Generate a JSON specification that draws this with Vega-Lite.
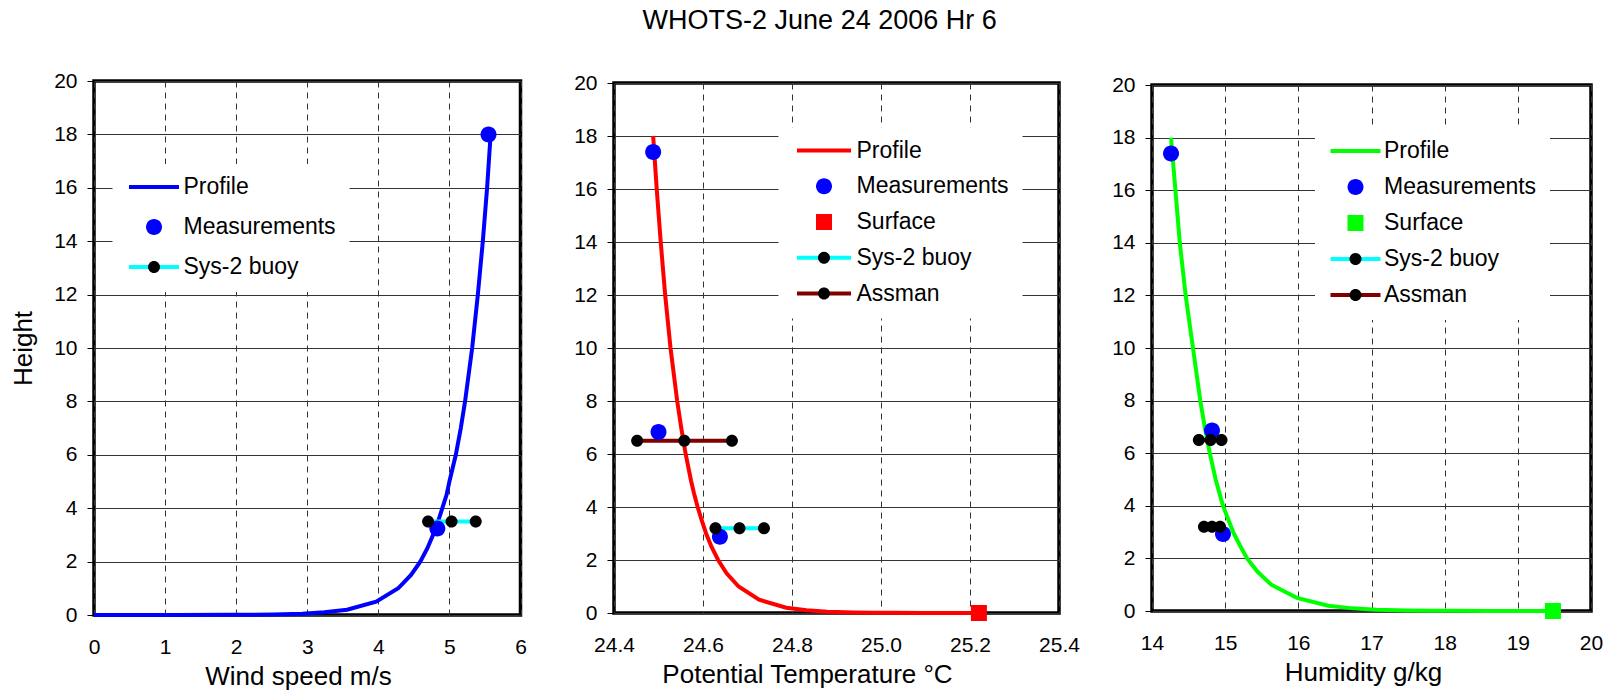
{
  "$schema": "https://vega.github.io/schema/vega-lite/v6.json",
  "background": "white",
  "padding": {"left": 8, "top": 7, "right": 2, "bottom": 2},
  "title": {"text": "WHOTS-2 June 24 2006 Hr 6", "font": "Liberation Sans", "fontSize": 27, "fontWeight": "normal", "color": "black", "anchor": "middle", "dx": 13, "offset": 33},
  "config": {
    "font": "Liberation Sans",
    "view": {"stroke": "black", "strokeWidth": 3.5},
    "axis": {"labelFont": "Liberation Sans", "labelFontSize": 21, "labelColor": "black", "titleFont": "Liberation Sans", "titleFontSize": 26, "titleFontWeight": "normal", "titleColor": "black", "domain": false, "gridColor": "#333333", "gridOpacity": 1, "gridWidth": 1, "tickColor": "black", "labelOverlap": false, "labelFlush": false},
    "axisX": {"ticks": false, "tickSize": 0, "labelPadding": 21.5, "gridDash": [6, 5], "titlePadding": 6},
    "axisY": {"ticks": true, "tickSize": 7, "labelPadding": 10, "gridDash": [], "titlePadding": 17, "format": "d"},
    "legend": {"labelFont": "Liberation Sans", "labelFontSize": 23, "labelColor": "black", "labelLimit": 400, "title": null}
  },
  "datasets": {
    "p1_lines": [
      {"lg": "Profile", "x": 5.58, "h": 18}, {"lg": "Profile", "x": 5.53, "h": 16}, {"lg": "Profile", "x": 5.47, "h": 14}, {"lg": "Profile", "x": 5.40, "h": 12}, {"lg": "Profile", "x": 5.32, "h": 10}, {"lg": "Profile", "x": 5.22, "h": 8}, {"lg": "Profile", "x": 5.16, "h": 7}, {"lg": "Profile", "x": 5.09, "h": 6}, {"lg": "Profile", "x": 5.00, "h": 5}, {"lg": "Profile", "x": 4.96, "h": 4.5}, {"lg": "Profile", "x": 4.90, "h": 4}, {"lg": "Profile", "x": 4.84, "h": 3.5}, {"lg": "Profile", "x": 4.77, "h": 3}, {"lg": "Profile", "x": 4.69, "h": 2.5}, {"lg": "Profile", "x": 4.59, "h": 2}, {"lg": "Profile", "x": 4.46, "h": 1.5}, {"lg": "Profile", "x": 4.28, "h": 1}, {"lg": "Profile", "x": 3.97, "h": 0.5}, {"lg": "Profile", "x": 3.56, "h": 0.2}, {"lg": "Profile", "x": 3.24, "h": 0.1}, {"lg": "Profile", "x": 2.93, "h": 0.05}, {"lg": "Profile", "x": 2.52, "h": 0.02}, {"lg": "Profile", "x": 2.21, "h": 0.01}, {"lg": "Profile", "x": 1.90, "h": 0.005}, {"lg": "Profile", "x": 1.17, "h": 0.001}, {"lg": "Profile", "x": 0.86, "h": 0.0005}, {"lg": "Profile", "x": 0.45, "h": 0.0002}, {"lg": "Profile", "x": 0.14, "h": 0.0001}, {"lg": "Profile", "x": 0.0, "h": 0.0},
      {"lg": "Sys-2 buoy", "x": 4.70, "h": 3.5}, {"lg": "Sys-2 buoy", "x": 5.03, "h": 3.5}, {"lg": "Sys-2 buoy", "x": 5.37, "h": 3.5}
    ],
    "p1_pts": [
      {"lp": "Measurements", "x": 5.55, "h": 18.0}, {"lp": "Measurements", "x": 4.83, "h": 3.24},
      {"lp": "Sys-2 buoy", "x": 4.70, "h": 3.5}, {"lp": "Sys-2 buoy", "x": 5.03, "h": 3.5}, {"lp": "Sys-2 buoy", "x": 5.37, "h": 3.5}
    ],
    "p2_lines": [
      {"lg": "Profile", "x": 24.488, "h": 18}, {"lg": "Profile", "x": 24.496, "h": 16}, {"lg": "Profile", "x": 24.505, "h": 14}, {"lg": "Profile", "x": 24.515, "h": 12}, {"lg": "Profile", "x": 24.527, "h": 10}, {"lg": "Profile", "x": 24.542, "h": 8}, {"lg": "Profile", "x": 24.551, "h": 7}, {"lg": "Profile", "x": 24.561, "h": 6}, {"lg": "Profile", "x": 24.573, "h": 5}, {"lg": "Profile", "x": 24.580, "h": 4.5}, {"lg": "Profile", "x": 24.588, "h": 4}, {"lg": "Profile", "x": 24.597, "h": 3.5}, {"lg": "Profile", "x": 24.607, "h": 3}, {"lg": "Profile", "x": 24.619, "h": 2.5}, {"lg": "Profile", "x": 24.634, "h": 2}, {"lg": "Profile", "x": 24.653, "h": 1.5}, {"lg": "Profile", "x": 24.680, "h": 1}, {"lg": "Profile", "x": 24.726, "h": 0.5}, {"lg": "Profile", "x": 24.787, "h": 0.2}, {"lg": "Profile", "x": 24.833, "h": 0.1}, {"lg": "Profile", "x": 24.879, "h": 0.05}, {"lg": "Profile", "x": 24.940, "h": 0.02}, {"lg": "Profile", "x": 24.986, "h": 0.01}, {"lg": "Profile", "x": 25.032, "h": 0.005}, {"lg": "Profile", "x": 25.093, "h": 0.002}, {"lg": "Profile", "x": 25.139, "h": 0.001}, {"lg": "Profile", "x": 25.185, "h": 0.0005}, {"lg": "Profile", "x": 25.220, "h": 0.0},
      {"lg": "Sys-2 buoy", "x": 24.628, "h": 3.2}, {"lg": "Sys-2 buoy", "x": 24.682, "h": 3.2}, {"lg": "Sys-2 buoy", "x": 24.737, "h": 3.2},
      {"lg": "Assman", "x": 24.452, "h": 6.5}, {"lg": "Assman", "x": 24.558, "h": 6.5}, {"lg": "Assman", "x": 24.665, "h": 6.5}
    ],
    "p2_pts": [
      {"lp": "Measurements", "x": 24.488, "h": 17.4}, {"lp": "Measurements", "x": 24.500, "h": 6.83}, {"lp": "Measurements", "x": 24.638, "h": 2.88},
      {"lp": "Sys-2 buoy", "x": 24.628, "h": 3.2}, {"lp": "Sys-2 buoy", "x": 24.682, "h": 3.2}, {"lp": "Sys-2 buoy", "x": 24.737, "h": 3.2},
      {"lp": "Assman", "x": 24.452, "h": 6.5}, {"lp": "Assman", "x": 24.558, "h": 6.5}, {"lp": "Assman", "x": 24.665, "h": 6.5},
      {"lp": "Surface", "x": 25.220, "h": 0.0}
    ],
    "p3_lines": [
      {"lg": "Profile", "x": 14.26, "h": 18}, {"lg": "Profile", "x": 14.32, "h": 16}, {"lg": "Profile", "x": 14.38, "h": 14}, {"lg": "Profile", "x": 14.46, "h": 12}, {"lg": "Profile", "x": 14.56, "h": 10}, {"lg": "Profile", "x": 14.66, "h": 8}, {"lg": "Profile", "x": 14.72, "h": 7}, {"lg": "Profile", "x": 14.79, "h": 6}, {"lg": "Profile", "x": 14.87, "h": 5}, {"lg": "Profile", "x": 14.92, "h": 4.5}, {"lg": "Profile", "x": 14.97, "h": 4}, {"lg": "Profile", "x": 15.04, "h": 3.5}, {"lg": "Profile", "x": 15.11, "h": 3}, {"lg": "Profile", "x": 15.20, "h": 2.5}, {"lg": "Profile", "x": 15.30, "h": 2}, {"lg": "Profile", "x": 15.44, "h": 1.5}, {"lg": "Profile", "x": 15.63, "h": 1}, {"lg": "Profile", "x": 15.98, "h": 0.5}, {"lg": "Profile", "x": 16.41, "h": 0.2}, {"lg": "Profile", "x": 16.74, "h": 0.1}, {"lg": "Profile", "x": 17.06, "h": 0.05}, {"lg": "Profile", "x": 17.48, "h": 0.02}, {"lg": "Profile", "x": 17.81, "h": 0.01}, {"lg": "Profile", "x": 18.14, "h": 0.005}, {"lg": "Profile", "x": 18.58, "h": 0.002}, {"lg": "Profile", "x": 18.90, "h": 0.001}, {"lg": "Profile", "x": 19.23, "h": 0.0005}, {"lg": "Profile", "x": 19.48, "h": 0.0},
      {"lg": "Sys-2 buoy", "x": 14.71, "h": 3.2}, {"lg": "Sys-2 buoy", "x": 14.82, "h": 3.2}, {"lg": "Sys-2 buoy", "x": 14.93, "h": 3.2},
      {"lg": "Assman", "x": 14.64, "h": 6.5}, {"lg": "Assman", "x": 14.80, "h": 6.5}, {"lg": "Assman", "x": 14.95, "h": 6.5}
    ],
    "p3_pts": [
      {"lp": "Measurements", "x": 14.26, "h": 17.4}, {"lp": "Measurements", "x": 14.82, "h": 6.86}, {"lp": "Measurements", "x": 14.97, "h": 2.93},
      {"lp": "Sys-2 buoy", "x": 14.71, "h": 3.2}, {"lp": "Sys-2 buoy", "x": 14.82, "h": 3.2}, {"lp": "Sys-2 buoy", "x": 14.93, "h": 3.2},
      {"lp": "Assman", "x": 14.64, "h": 6.5}, {"lp": "Assman", "x": 14.80, "h": 6.5}, {"lp": "Assman", "x": 14.95, "h": 6.5},
      {"lp": "Surface", "x": 19.48, "h": 0.0}
    ]
  },
  "resolve": {"scale": {"stroke": "independent", "fill": "independent", "shape": "independent"}},
  "bounds": "flush",
  "center": true,
  "spacing": 93,
  "hconcat": [
    {
      "width": 426.5,
      "height": 534,
      "layer": [
        {
          "data": {"name": "p1_lines"},
          "mark": {"type": "line", "strokeWidth": 4},
          "encoding": {
            "x": {"field": "x", "type": "quantitative", "scale": {"domain": [0, 6], "nice": false, "zero": false}, "axis": {"values": [0, 1, 2, 3, 4, 5, 6], "format": "d", "title": "Wind speed m/s", "titleX": 204}},
            "y": {"field": "h", "type": "quantitative", "scale": {"domain": [0, 20], "nice": false}, "axis": {"values": [0, 2, 4, 6, 8, 10, 12, 14, 16, 18, 20], "title": "Height"}},
            "stroke": {"field": "lg", "type": "nominal",
              "scale": {"domain": ["Profile", "Measurements", "Sys-2 buoy"], "range": ["#0000ff", "transparent", "#00ffff"]},
              "legend": {"orient": "none", "legendX": 18.5, "legendY": 83, "direction": "vertical", "fillColor": "white", "padding": 13, "clipHeight": 20, "rowPadding": 17, "symbolType": "M-5,0H5", "symbolSize": 100, "symbolStrokeWidth": 4, "symbolOffset": 17, "labelOffset": 18, "labelExpr": "datum.label + '\u00a0\u00a0\u00a0\u00a0\u00a0'", "zindex": 1}}
          }
        },
        {
          "data": {"name": "p1_pts"},
          "mark": {"type": "point", "filled": true, "size": 100, "opacity": 1, "strokeWidth": 0},
          "encoding": {
            "x": {"field": "x", "type": "quantitative"},
            "y": {"field": "h", "type": "quantitative"},
            "fill": {"field": "lp", "type": "nominal",
              "scale": {"domain": ["Profile", "Measurements", "Sys-2 buoy", "-"], "range": ["transparent", "#0000ff", "#000000", "transparent"]},
              "legend": {"orient": "none", "legendX": 18.5, "legendY": 83, "direction": "vertical", "values": ["Profile", "Measurements", "Sys-2 buoy"], "padding": 13, "clipHeight": 20, "rowPadding": 17, "symbolSize": 100, "symbolStrokeWidth": 0, "symbolOffset": 17, "labelOffset": 18, "labelOpacity": 0, "labelExpr": "datum.label + '\u00a0\u00a0\u00a0\u00a0\u00a0'", "zindex": 2}},
            "shape": {"field": "lp", "type": "nominal",
              "scale": {"domain": ["Profile", "Measurements", "Sys-2 buoy", "-"], "range": ["M1.6,0A1.6,1.6,0,1,1,-1.6,0A1.6,1.6,0,1,1,1.6,0Z", "M1.6,0A1.6,1.6,0,1,1,-1.6,0A1.6,1.6,0,1,1,1.6,0Z", "M1.2,0A1.2,1.2,0,1,1,-1.2,0A1.2,1.2,0,1,1,1.2,0Z", "circle"]}}
          }
        }
      ]
    },
    {
      "width": 445,
      "height": 530,
      "layer": [
        {
          "data": {"name": "p2_lines"},
          "mark": {"type": "line", "strokeWidth": 4},
          "encoding": {
            "x": {"field": "x", "type": "quantitative", "scale": {"domain": [24.4, 25.4], "nice": false, "zero": false}, "axis": {"values": [24.4, 24.6, 24.8, 25.0, 25.2, 25.4], "format": ".1f", "title": "Potential Temperature °C", "titleX": 193}},
            "y": {"field": "h", "type": "quantitative", "scale": {"domain": [0, 20], "nice": false}, "axis": {"values": [0, 2, 4, 6, 8, 10, 12, 14, 16, 18, 20], "title": null}},
            "stroke": {"field": "lg", "type": "nominal",
              "scale": {"domain": ["Profile", "Measurements", "Surface", "Sys-2 buoy", "Assman"], "range": ["#ff0000", "transparent", "transparent", "#00ffff", "#800000"]},
              "legend": {"orient": "none", "legendX": 164.5, "legendY": 44.5, "direction": "vertical", "fillColor": "white", "padding": 13, "clipHeight": 20, "rowPadding": 12.75, "symbolType": "M-5.4,0H5.4", "symbolSize": 100, "symbolStrokeWidth": 4, "symbolOffset": 21, "labelOffset": 21, "labelExpr": "datum.label + '\u00a0\u00a0\u00a0\u00a0\u00a0'", "zindex": 1}}
          }
        },
        {
          "data": {"name": "p2_pts"},
          "mark": {"type": "point", "filled": true, "size": 100, "opacity": 1, "strokeWidth": 0},
          "encoding": {
            "x": {"field": "x", "type": "quantitative"},
            "y": {"field": "h", "type": "quantitative"},
            "fill": {"field": "lp", "type": "nominal",
              "scale": {"domain": ["Profile", "Measurements", "Surface", "Sys-2 buoy", "Assman", "-"], "range": ["transparent", "#0000ff", "#ff0000", "#000000", "#000000", "transparent"]},
              "legend": {"orient": "none", "legendX": 164.5, "legendY": 44.5, "direction": "vertical", "values": ["Profile", "Measurements", "Surface", "Sys-2 buoy", "Assman"], "padding": 13, "clipHeight": 20, "rowPadding": 12.75, "symbolSize": 100, "symbolStrokeWidth": 0, "symbolOffset": 21, "labelOffset": 21, "labelOpacity": 0, "labelExpr": "datum.label + '\u00a0\u00a0\u00a0\u00a0\u00a0'", "zindex": 2}},
            "shape": {"field": "lp", "type": "nominal",
              "scale": {"domain": ["Profile", "Measurements", "Surface", "Sys-2 buoy", "Assman", "-"], "range": ["M1.6,0A1.6,1.6,0,1,1,-1.6,0A1.6,1.6,0,1,1,1.6,0Z", "M1.6,0A1.6,1.6,0,1,1,-1.6,0A1.6,1.6,0,1,1,1.6,0Z", "M-1.6,-1.6H1.6V1.6H-1.6Z", "M1.2,0A1.2,1.2,0,1,1,-1.2,0A1.2,1.2,0,1,1,1.2,0Z", "M1.2,0A1.2,1.2,0,1,1,-1.2,0A1.2,1.2,0,1,1,1.2,0Z", "circle"]}}
          }
        }
      ]
    },
    {
      "width": 439,
      "height": 526,
      "layer": [
        {
          "data": {"name": "p3_lines"},
          "mark": {"type": "line", "strokeWidth": 4},
          "encoding": {
            "x": {"field": "x", "type": "quantitative", "scale": {"domain": [14, 20], "nice": false, "zero": false}, "axis": {"values": [14, 15, 16, 17, 18, 19, 20], "format": "d", "title": "Humidity g/kg", "titleX": 211}},
            "y": {"field": "h", "type": "quantitative", "scale": {"domain": [0, 20], "nice": false}, "axis": {"values": [0, 2, 4, 6, 8, 10, 12, 14, 16, 18, 20], "title": null}},
            "stroke": {"field": "lg", "type": "nominal",
              "scale": {"domain": ["Profile", "Measurements", "Surface", "Sys-2 buoy", "Assman"], "range": ["#00ff00", "transparent", "transparent", "#00ffff", "#800000"]},
              "legend": {"orient": "none", "legendX": 163, "legendY": 43, "direction": "vertical", "fillColor": "white", "padding": 13, "clipHeight": 20, "rowPadding": 13, "symbolType": "M-5,0H5", "symbolSize": 100, "symbolStrokeWidth": 4, "symbolOffset": 16, "labelOffset": 17, "labelExpr": "datum.label + '\u00a0\u00a0\u00a0'", "zindex": 1}}
          }
        },
        {
          "data": {"name": "p3_pts"},
          "mark": {"type": "point", "filled": true, "size": 100, "opacity": 1, "strokeWidth": 0},
          "encoding": {
            "x": {"field": "x", "type": "quantitative"},
            "y": {"field": "h", "type": "quantitative"},
            "fill": {"field": "lp", "type": "nominal",
              "scale": {"domain": ["Profile", "Measurements", "Surface", "Sys-2 buoy", "Assman", "-"], "range": ["transparent", "#0000ff", "#00ff00", "#000000", "#000000", "transparent"]},
              "legend": {"orient": "none", "legendX": 163, "legendY": 43, "direction": "vertical", "values": ["Profile", "Measurements", "Surface", "Sys-2 buoy", "Assman"], "padding": 13, "clipHeight": 20, "rowPadding": 13, "symbolSize": 100, "symbolStrokeWidth": 0, "symbolOffset": 16, "labelOffset": 17, "labelOpacity": 0, "labelExpr": "datum.label + '\u00a0\u00a0\u00a0'", "zindex": 2}},
            "shape": {"field": "lp", "type": "nominal",
              "scale": {"domain": ["Profile", "Measurements", "Surface", "Sys-2 buoy", "Assman", "-"], "range": ["M1.6,0A1.6,1.6,0,1,1,-1.6,0A1.6,1.6,0,1,1,1.6,0Z", "M1.6,0A1.6,1.6,0,1,1,-1.6,0A1.6,1.6,0,1,1,1.6,0Z", "M-1.6,-1.6H1.6V1.6H-1.6Z", "M1.2,0A1.2,1.2,0,1,1,-1.2,0A1.2,1.2,0,1,1,1.2,0Z", "M1.2,0A1.2,1.2,0,1,1,-1.2,0A1.2,1.2,0,1,1,1.2,0Z", "circle"]}}
          }
        }
      ]
    }
  ]
}
